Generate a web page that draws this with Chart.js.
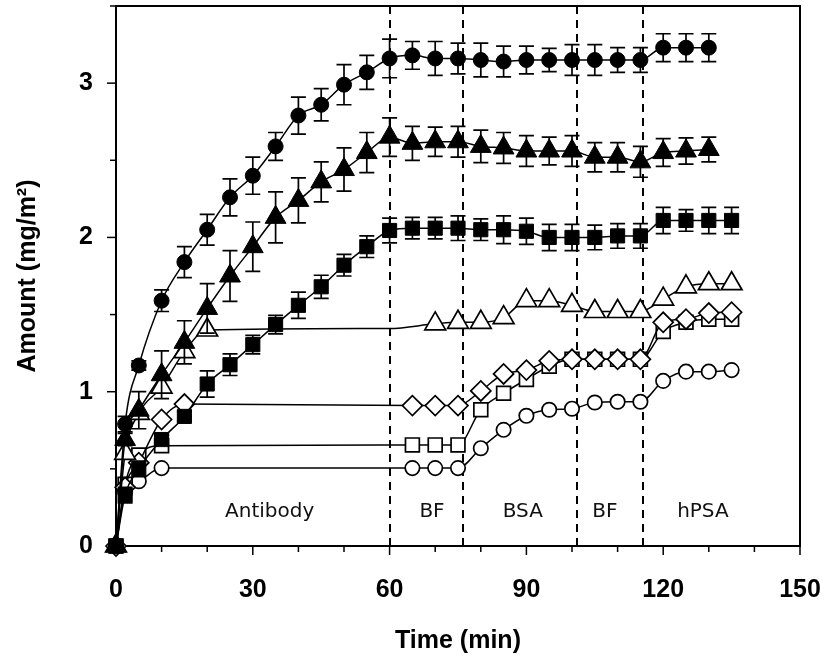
<!DOCTYPE html>
<html>
<head>
<meta charset="utf-8">
<script src="https://cdn.jsdelivr.net/npm/chart.js@4.4.1/dist/chart.umd.min.js"></script>
<style>
  html, body { margin: 0; padding: 0; background: #fff; }
  #wrap { width: 824px; height: 659px; }
</style>
</head>
<body>
<div id="wrap"><canvas id="c" width="824" height="659"></canvas></div>
<script>
// ---------------- data ----------------
const xFilledCircle = [0,2,5,10,15,20,25,30,35,40,45,50,55,60,65,70,75,80,85,90,95,100,105,110,115,120,125,130];
const yFilledCircle = [0,0.79,1.17,1.59,1.84,2.05,2.26,2.40,2.59,2.79,2.86,2.99,3.07,3.16,3.18,3.16,3.16,3.15,3.14,3.15,3.15,3.15,3.15,3.15,3.15,3.23,3.23,3.23];
const eFilledCircle = [0,0.05,0.03,0.07,0.10,0.10,0.12,0.12,0.09,0.12,0.105,0.13,0.11,0.125,0.09,0.11,0.10,0.11,0.10,0.09,0.075,0.10,0.10,0.08,0.08,0.09,0.09,0.09];

const xFilledTriangle = [0,2,5,10,15,20,25,30,35,40,45,50,55,60,65,70,75,80,85,90,95,100,105,110,115,120,125,130];
const yFilledTriangle = [0,0.69,0.88,1.11,1.32,1.54,1.75,1.94,2.13,2.24,2.36,2.44,2.55,2.65,2.61,2.62,2.62,2.59,2.58,2.56,2.56,2.56,2.52,2.52,2.49,2.55,2.56,2.57];
const eFilledTriangle = [0,0.04,0.12,0.155,0.14,0.16,0.165,0.16,0.165,0.146,0.13,0.14,0.13,0.125,0.11,0.095,0.10,0.105,0.10,0.10,0.09,0.10,0.095,0.095,0.10,0.09,0.085,0.08];

const xFilledSquare = [0,2,5,10,15,20,25,30,35,40,45,50,55,60,65,70,75,80,85,90,95,100,105,110,115,120,125,130,135];
const yFilledSquare = [0,0.33,0.50,0.69,0.84,1.05,1.175,1.305,1.435,1.56,1.68,1.82,1.94,2.045,2.06,2.06,2.06,2.05,2.05,2.04,2.00,2.00,2.00,2.01,2.01,2.11,2.11,2.11,2.11];
const eFilledSquare = [0,0.05,0.05,0.03,0.03,0.085,0.07,0.06,0.06,0.085,0.075,0.07,0.07,0.08,0.07,0.07,0.08,0.07,0.09,0.085,0.085,0.085,0.08,0.08,0.08,0.085,0.07,0.085,0.085];

const xOpenTriangle = [0,2,5,10,15,20,60,70,75,80,85,90,95,100,105,110,115,120,125,130,135];
const yOpenTriangle = [0,0.60,0.86,1.03,1.26,1.40,1.41,1.44,1.45,1.45,1.48,1.59,1.59,1.56,1.52,1.52,1.52,1.60,1.68,1.70,1.70];
const markOpenTriangle = [1,1,1,1,1,1,0,1,1,1,1,1,1,1,1,1,1,1,1,1,1];

const xDiamond = [0,2,5,10,15,65,70,75,80,85,90,95,100,105,110,115,120,125,130,135];
const yDiamond = [0,0.38,0.54,0.82,0.92,0.91,0.91,0.91,1.005,1.115,1.14,1.20,1.21,1.21,1.21,1.21,1.45,1.47,1.51,1.515];

const xOpenSquare = [0,2,5,10,65,70,75,80,85,90,95,100,105,110,115,120,125,130,135];
const yOpenSquare = [0,0.40,0.59,0.65,0.655,0.655,0.655,0.883,0.99,1.08,1.165,1.21,1.21,1.21,1.21,1.39,1.45,1.47,1.47];

const xOpenCircle = [0,2,5,10,65,70,75,80,85,90,95,100,105,110,115,120,125,130,135];
const yOpenCircle = [0,0.35,0.42,0.505,0.505,0.505,0.505,0.634,0.753,0.844,0.883,0.89,0.93,0.935,0.935,1.07,1.13,1.13,1.14];

const phaseBoundaries = [60, 76, 101, 115.5];
const phaseLabels = ['Antibody', 'BF', 'BSA', 'BF', 'hPSA'];
const phaseLabelX = [33.7, 69.3, 89.2, 107.2, 128.7];
const phaseLabelY = 0.19;

const xTickValues = [0, 30, 60, 90, 120, 150];
const yTickValues = [0, 1, 2, 3];

// ---------------- helpers ----------------
const pts = (xs, ys) => xs.map((x, i) => ({ x: x, y: ys[i] }));

function ds(label, xs, ys, errs, style, radius, filled) {
  return {
    label: label,
    data: pts(xs, ys),
    errors: errs || null,
    borderColor: '#000',
    borderWidth: 1.5,
    pointStyle: style,
    pointRadius: radius,
    pointBackgroundColor: filled ? '#000' : '#fff',
    pointBorderColor: '#000',
    pointBorderWidth: filled ? 1 : 1.7,
    cubicInterpolationMode: 'monotone',
    fill: false,
    clip: false
  };
}

const errorBarPlugin = {
  id: 'errorBars',
  afterDatasetDraw(chart, args) {
    const d = chart.data.datasets[args.index];
    if (!d.errors) return;
    const ctx = chart.ctx, xs = chart.scales.x, ys = chart.scales.y;
    ctx.save();
    ctx.strokeStyle = '#000';
    ctx.lineWidth = 1.7;
    d.data.forEach((p, i) => {
      const e = d.errors[i];
      if (!e) return;
      const px = xs.getPixelForValue(p.x);
      const top = ys.getPixelForValue(p.y + e);
      const bot = ys.getPixelForValue(p.y - e);
      ctx.beginPath();
      ctx.moveTo(px, top); ctx.lineTo(px, bot);
      ctx.moveTo(px - 7.5, top); ctx.lineTo(px + 7.5, top);
      ctx.moveTo(px - 7.5, bot); ctx.lineTo(px + 7.5, bot);
      ctx.stroke();
    });
    ctx.restore();
  }
};

const framePlugin = {
  id: 'frame',
  beforeDatasetsDraw(chart) {
    const ctx = chart.ctx, a = chart.chartArea, xs = chart.scales.x, ys = chart.scales.y;
    ctx.save();
    // phase dividers
    ctx.strokeStyle = '#000';
    ctx.lineWidth = 2;
    ctx.setLineDash([8, 6]);
    phaseBoundaries.forEach(b => {
      const px = Math.round(xs.getPixelForValue(b));
      ctx.beginPath();
      ctx.moveTo(px, a.top); ctx.lineTo(px, a.bottom);
      ctx.stroke();
    });
    ctx.setLineDash([]);
    // frame
    ctx.lineWidth = 2;
    ctx.strokeRect(a.left, a.top, a.right - a.left, a.bottom - a.top);
    // x ticks (major every 30, minor every 10)
    ctx.lineWidth = 1.5;
    for (let v = 0; v <= 150; v += 10) {
      const px = xs.getPixelForValue(v);
      const len = xTickValues.includes(v) ? 9 : 6;
      ctx.beginPath(); ctx.moveTo(px, a.bottom); ctx.lineTo(px, a.bottom + len); ctx.stroke();
    }
    for (let v = 0; v <= 3.5001; v += 0.5) {
      const py = ys.getPixelForValue(v);
      const len = yTickValues.includes(Math.round(v * 10) / 10) ? 9 : 6;
      ctx.beginPath(); ctx.moveTo(a.left, py); ctx.lineTo(a.left - len, py); ctx.stroke();
    }
    // phase labels
    ctx.fillStyle = '#111';
    ctx.font = '20px "DejaVu Sans", sans-serif';
    ctx.textAlign = 'center';
    ctx.textBaseline = 'alphabetic';
    phaseLabels.forEach((t, i) => {
      ctx.fillText(t, xs.getPixelForValue(phaseLabelX[i]), ys.getPixelForValue(phaseLabelY));
    });
    ctx.restore();
  }
};

const tickFont = { family: '"Liberation Sans", Arial, sans-serif', size: 25, weight: 'bold' };

new Chart(document.getElementById('c'), {
  type: 'line',
  data: {
    datasets: [
      ds('filled circle', xFilledCircle, yFilledCircle, eFilledCircle, 'circle', 7.5, true),
      ds('filled triangle', xFilledTriangle, yFilledTriangle, eFilledTriangle, 'triangle', 12, true),
      ds('filled square', xFilledSquare, yFilledSquare, eFilledSquare, 'rect', 10, true),
      ds('open triangle', xOpenTriangle, yOpenTriangle, null, 'triangle', markOpenTriangle.map(m => m ? 12 : 0), false),
      ds('open diamond', xDiamond, yDiamond, null, 'rectRot', 10, false),
      ds('open square', xOpenSquare, yOpenSquare, null, 'rect', 9.8, false),
      ds('open circle', xOpenCircle, yOpenCircle, null, 'circle', 7.2, false)
    ]
  },
  options: {
    responsive: false,
    animation: false,
    devicePixelRatio: 1,
    layout: { autoPadding: false, padding: { left: 0, right: 24, top: 6, bottom: 0 } },
    plugins: { legend: { display: false }, tooltip: { enabled: false }, title: { display: false } },
    scales: {
      x: {
        type: 'linear', min: 0, max: 150,
        afterFit: s => { s.height = 113; s.paddingLeft = 0; s.paddingRight = 0; },
        border: { display: false },
        grid: { display: true, drawOnChartArea: false, drawTicks: true, tickLength: 9, color: 'rgba(0,0,0,0)' },
        ticks: {
          stepSize: 10, autoSkip: false, maxRotation: 0, padding: 20,
          color: '#000', font: tickFont,
          callback: v => (xTickValues.includes(v) ? String(v) : '')
        },
        title: { display: true, text: 'Time (min)', color: '#000', font: tickFont, padding: { top: 0, bottom: 3 } }
      },
      y: {
        type: 'linear', min: 0, max: 3.5,
        afterFit: s => { s.width = 116; s.paddingTop = 0; s.paddingBottom = 0; },
        border: { display: false },
        grid: { display: true, drawOnChartArea: false, drawTicks: true, tickLength: 9, color: 'rgba(0,0,0,0)' },
        ticks: {
          stepSize: 0.5, autoSkip: false, padding: 14,
          color: '#000', font: tickFont,
          callback: v => (yTickValues.includes(v) ? String(v) : '')
        },
        title: { display: true, text: 'Amount (mg/m²)', color: '#000', font: tickFont, padding: { top: 13, bottom: 0 } }
      }
    }
  },
  plugins: [framePlugin, errorBarPlugin]
});
</script>
</body>
</html>
